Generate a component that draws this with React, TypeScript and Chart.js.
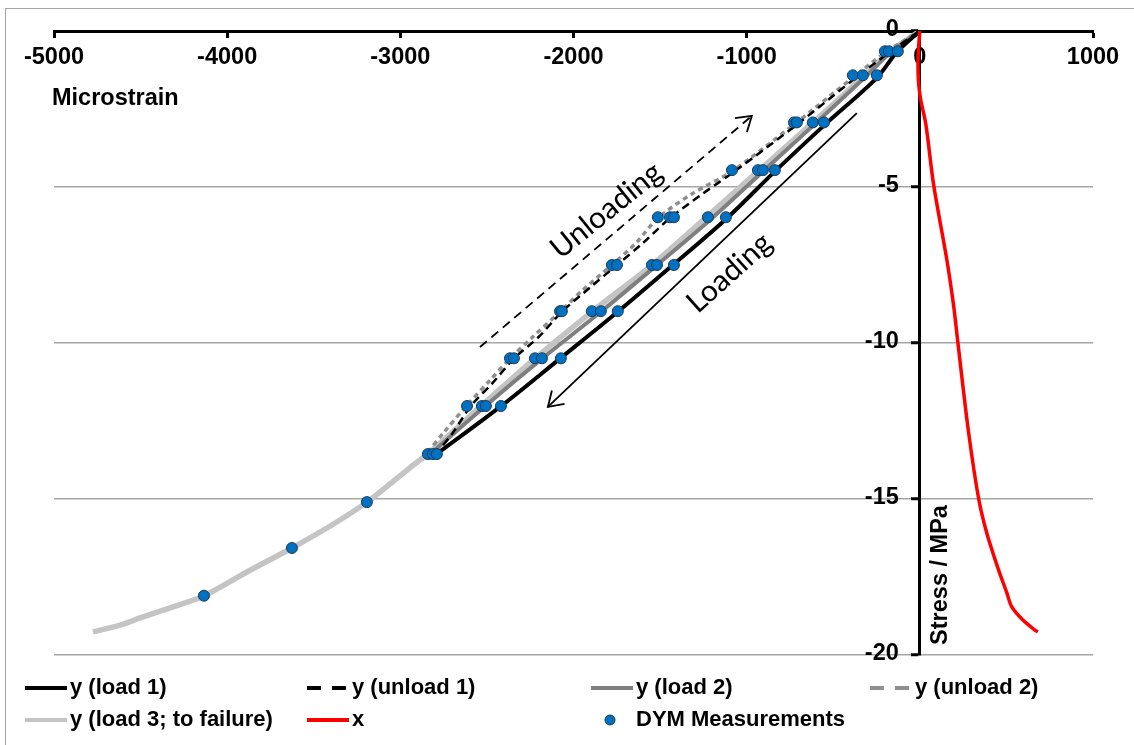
import React, { useEffect, useRef } from 'react';
import { Chart, registerables } from 'chart.js';

Chart.register(...registerables);

const FONT = '"Liberation Sans", Arial, Helvetica, sans-serif';

// axis ticks
const xTickValues = [-5000, -4000, -3000, -2000, -1000, 0, 1000];
const yTickValues = [0, -5, -10, -15, -20];

// series labels
const seriesLabels = [
  'y (load 1)',
  'y (unload 1)',
  'y (load 2)',
  'y (unload 2)',
  'y (load 3; to failure)',
  'x',
  'DYM Measurements',
];

// y (load 1) — axial strain vs stress
const load1Strain = [0, -133, -248, -548, -837, -1114, -1426, -1744, -2078, -2413, -2800];
const load1Stress = [0, -0.68, -1.5, -3.0, -4.5, -6.0, -7.5, -9.0, -10.5, -12.0, -13.6];

// y (unload 1)
const unload1Strain = [-2800, -2700, -2590, -2470, -2344, -2200, -2067, -1900, -1749, -1600, -1443, -1250, -1070, -710, -370, -180, 0];
const unload1Stress = [-13.6, -12.9, -12.0, -11.3, -10.5, -9.8, -9.0, -8.2, -7.5, -6.8, -6.0, -5.2, -4.5, -3.0, -1.5, -0.7, 0];

// y (load 2)
const load2Strain = [0, -170, -320, -610, -906, -1200, -1518, -1842, -2182, -2506, -2815];
const load2Stress = [0, -0.7, -1.5, -3.0, -4.5, -6.0, -7.5, -9.0, -10.5, -12.0, -13.5];

// y (unload 2)
const unload2Strain = [-2841, -2754, -2615, -2483, -2367, -2234, -2078, -1946, -1778, -1640, -1513, -1310, -1085, -727, -387, -202, 0];
const unload2Stress = [-13.5, -12.9, -12.0, -11.2, -10.5, -9.8, -9.0, -8.3, -7.5, -6.8, -6.0, -5.2, -4.5, -3.0, -1.5, -0.7, 0];

// y (load 3; to failure)
const load3Strain = [0, -180, -335, -630, -935, -1240, -1547, -1894, -2223, -2529, -2830, -2945, -3193, -3400, -3626, -3886, -4134, -4313, -4486, -4619, -4775];
const load3Stress = [0, -0.7, -1.5, -3.0, -4.5, -6.0, -7.5, -9.0, -10.5, -12.0, -13.5, -14.0, -15.1, -15.85, -16.57, -17.34, -18.1, -18.46, -18.78, -19.04, -19.26];

// x — lateral strain vs stress
const lateralStrain = [0, -10, -8, 5, 35, 80, 155, 195, 220, 280, 340, 387, 450, 502, 531, 595, 664, 681];
const lateralStress = [0, -0.8, -1.6, -2.2, -3.0, -4.94, -7.3, -8.8, -10.0, -12.8, -15.0, -16.1, -17.2, -18.0, -18.46, -18.88, -19.2, -19.26];

// DYM measurements
const dymStrain = [
  -202, -179, -127,
  -387, -329, -248,
  -727, -710, -618, -554,
  -1085, -935, -906, -837,
  -1513, -1443, -1420, -1224, -1120,
  -1778, -1749, -1547, -1518, -1420,
  -2078, -2067, -1894, -1842, -1744,
  -2367, -2344, -2223, -2182, -2073,
  -2615, -2529, -2506, -2419,
  -2841, -2812, -2789,
  -3193,
  -3626,
  -4134,
];
const dymStress = [
  -0.65, -0.65, -0.65,
  -1.42, -1.42, -1.42,
  -2.93, -2.93, -2.93, -2.93,
  -4.46, -4.46, -4.46, -4.46,
  -5.97, -5.97, -5.97, -5.97, -5.97,
  -7.5, -7.5, -7.5, -7.5, -7.5,
  -8.98, -8.98, -8.98, -8.98, -8.98,
  -10.49, -10.49, -10.49, -10.49, -10.49,
  -12.02, -12.02, -12.02, -12.02,
  -13.56, -13.56, -13.56,
  -15.1,
  -16.57,
  -18.1,
];

const toPoints = (xs: number[], ys: number[]) => xs.map((v, i) => ({ x: v, y: ys[i] }));

function drawArrow(ctx: CanvasRenderingContext2D, x1: number, y1: number, x2: number, y2: number, dash: number[]) {
  ctx.save();
  ctx.strokeStyle = '#000';
  ctx.lineWidth = 1.8;
  ctx.setLineDash(dash);
  ctx.beginPath();
  ctx.moveTo(x1, y1);
  ctx.lineTo(x2, y2);
  ctx.stroke();
  ctx.setLineDash([]);
  const a = Math.atan2(y2 - y1, x2 - x1);
  const L = 17;
  const sp = Math.PI / 5.5;
  ctx.beginPath();
  ctx.moveTo(x2 - L * Math.cos(a - sp), y2 - L * Math.sin(a - sp));
  ctx.lineTo(x2, y2);
  ctx.lineTo(x2 - L * Math.cos(a + sp), y2 - L * Math.sin(a + sp));
  ctx.stroke();
  ctx.restore();
}

const overlayPlugin = {
  id: 'overlay',
  afterDraw(chart: any) {
    const { ctx, scales } = chart;
    const xs = scales.x;
    const ys = scales.y;
    const px = (v: number) => xs.getPixelForValue(v);
    const py = (v: number) => ys.getPixelForValue(v);
    ctx.save();

    // outer chart border
    ctx.strokeStyle = '#a6a6a6';
    ctx.lineWidth = 1;
    ctx.strokeRect(5.5, 8.5, 1400, 1000);

    // y tick labels, left of the y axis that crosses at x = 0
    ctx.fillStyle = '#000';
    ctx.font = `bold 23.5px ${FONT}`;
    ctx.textAlign = 'right';
    ctx.textBaseline = 'middle';
    ys.ticks.forEach((t: any) => {
      ctx.fillText(String(t.value), px(0) - 21, py(t.value) - 1);
    });

    // axis titles
    ctx.textAlign = 'left';
    ctx.fillText('Microstrain', 52, 99);

    ctx.save();
    ctx.translate(px(0) + 21, 575);
    ctx.rotate(-Math.PI / 2);
    ctx.textAlign = 'center';
    ctx.fillText('Stress / MPa', 0, 0);
    ctx.restore();

    // annotation arrows
    drawArrow(ctx, px(-2540), py(-10.13), px(-970), py(-2.72), [9, 6]);
    drawArrow(ctx, px(-364), py(-2.63), px(-2148), py(-12.05), []);

    ctx.font = `30px Lato, "Open Sans", sans-serif`;
    ctx.textAlign = 'center';
    ctx.textBaseline = 'middle';
    ctx.save();
    ctx.translate(px(-1810), py(-5.75));
    ctx.rotate((-39 * Math.PI) / 180);
    ctx.fillText('Unloading', 0, 0);
    ctx.restore();
    ctx.save();
    ctx.translate(px(-1100), py(-7.75));
    ctx.rotate((-42 * Math.PI) / 180);
    ctx.fillText('Loading', 0, 0);
    ctx.restore();

    // legend (fixed grid like the original)
    const cols = [25, 307, 591, 870];
    const rows = [688, 720];
    const slots = [
      [0, 0], [0, 1], [0, 2], [0, 3],
      [1, 0], [1, 1], [1, 2],
    ];
    const ds = chart.data.datasets;
    ctx.font = `bold 22px ${FONT}`;
    ctx.textAlign = 'left';
    ctx.textBaseline = 'middle';
    seriesLabels.forEach((label, i) => {
      const d = ds.find((s: any) => s.label === label);
      const [r, c] = slots[i];
      const x0 = cols[c];
      const y0 = rows[r];
      if (d.showLine === false) {
        ctx.beginPath();
        ctx.arc(x0 + 19, y0, 5, 0, Math.PI * 2);
        ctx.fillStyle = d.backgroundColor;
        ctx.fill();
        ctx.lineWidth = 1;
        ctx.strokeStyle = d.borderColor;
        ctx.stroke();
      } else {
        ctx.beginPath();
        ctx.strokeStyle = d.borderColor;
        ctx.lineWidth = 4;
        ctx.setLineDash(d.borderDash && d.borderDash.length ? [14, 11] : []);
        ctx.moveTo(x0, y0);
        ctx.lineTo(x0 + 42, y0);
        ctx.stroke();
        ctx.setLineDash([]);
      }
      ctx.fillStyle = '#000';
      ctx.fillText(label, x0 + 45, y0);
    });

    ctx.restore();
  },
};

export default function App() {
  const canvasRef = useRef<HTMLCanvasElement | null>(null);

  useEffect(() => {
    if (!canvasRef.current) return;
    const lineDs = (label: string, xs: number[], ys: number[], color: string, width: number, dash: number[], order: number) => ({
      label,
      data: toPoints(xs, ys),
      showLine: true,
      borderColor: color,
      backgroundColor: color,
      borderWidth: width,
      borderDash: dash,
      pointRadius: 0,
      pointHoverRadius: 0,
      tension: 0.3,
      order,
    });

    const chart = new Chart(canvasRef.current, {
      type: 'scatter',
      data: {
        datasets: [
          {
            label: seriesLabels[6],
            data: toPoints(dymStrain, dymStress),
            showLine: false,
            pointRadius: 5.5,
            pointHoverRadius: 5.5,
            backgroundColor: '#0070c0',
            borderColor: '#1b3a5c',
            borderWidth: 1,
            order: 0,
          } as any,
          lineDs(seriesLabels[5], lateralStrain, lateralStress, '#ff0000', 3.5, [], 1),
          lineDs(seriesLabels[0], load1Strain, load1Stress, '#000000', 4, [], 2),
          lineDs(seriesLabels[1], unload1Strain, unload1Stress, '#000000', 2.5, [8, 5], 3),
          lineDs(seriesLabels[2], load2Strain, load2Stress, '#7f7f7f', 4, [], 4),
          lineDs(seriesLabels[3], unload2Strain, unload2Stress, '#8f8f8f', 3.5, [5, 4], 5),
          lineDs(seriesLabels[4], load3Strain, load3Stress, '#c4c4c4', 5.5, [], 6),
        ],
      },
      options: {
        responsive: false,
        animation: false,
        events: [],
        layout: { padding: { left: 54, top: 31, right: 41, bottom: 90 } },
        plugins: {
          legend: { display: false },
          tooltip: { enabled: false },
          title: { display: false },
        },
        scales: {
          x: {
            type: 'linear',
            position: { y: 0 } as any,
            min: -5000,
            max: 1000,
            afterBuildTicks: (scale: any) => {
              scale.ticks = xTickValues.map((v) => ({ value: v }));
            },
            ticks: {
              autoSkip: false,
              maxRotation: 0,
              minRotation: 0,
              padding: 7,
              color: '#000',
              font: { family: FONT, size: 23.5, weight: 'bold' },
              callback: (v: any) => String(v),
            },
            grid: {
              display: true,
              drawOnChartArea: false,
              drawTicks: true,
              tickLength: 5,
              tickWidth: 3,
              tickColor: '#000',
            },
            border: { display: true, color: '#000', width: 3 },
          },
          y: {
            type: 'linear',
            position: { x: 0 } as any,
            min: -20,
            max: 0,
            afterBuildTicks: (scale: any) => {
              scale.ticks = yTickValues.map((v) => ({ value: v }));
            },
            ticks: {
              display: false,
              autoSkip: false,
              callback: (v: any) => String(v),
            },
            grid: {
              display: true,
              drawOnChartArea: true,
              color: '#a6a6a6',
              lineWidth: 1.5,
              drawTicks: true,
              tickLength: 7,
              tickWidth: 3,
              tickColor: '#000',
            },
            border: { display: true, color: '#000', width: 3 },
          },
        },
      },
      plugins: [overlayPlugin],
    });
    return () => chart.destroy();
  }, []);

  return (
    <div style={{ position: 'fixed', left: 0, top: 0, width: 1134, height: 745, background: '#fff' }}>
      <canvas ref={canvasRef} width={1134} height={745} style={{ display: 'block', width: 1134, height: 745 }} />
    </div>
  );
}
